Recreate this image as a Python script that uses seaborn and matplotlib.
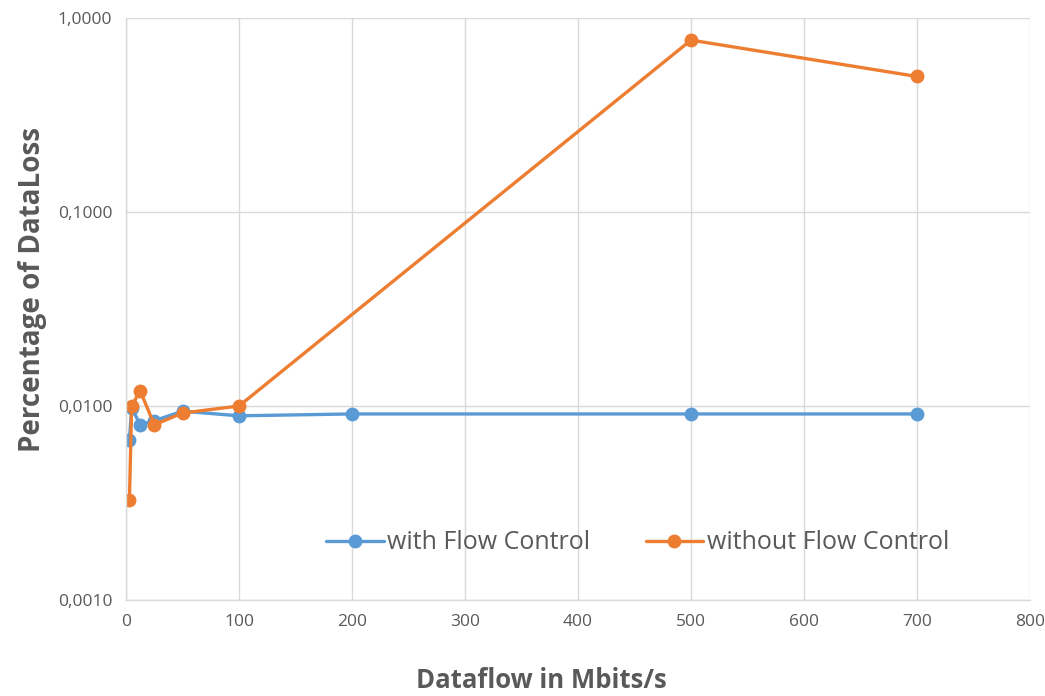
import matplotlib
matplotlib.use("Agg")
import matplotlib.pyplot as plt
import matplotlib.ticker as mticker
import seaborn as sns
import pandas as pd

with_x = [3, 5, 12.5, 25, 50, 100, 200, 500, 700]
with_y = [0.00668, 0.0098, 0.0080, 0.0084, 0.0094, 0.0089, 0.0091, 0.0091, 0.0091]
without_x = [3, 5, 12.5, 25, 50, 100, 500, 700]
without_y = [0.00327, 0.0100, 0.0120, 0.0080, 0.0092, 0.0100, 0.77, 0.50]
series_names = ["with Flow Control", "without Flow Control"]
colors = ["#5B9BD5", "#ED7D31"]

df = pd.DataFrame({
    "x": with_x + without_x,
    "y": with_y + without_y,
    "series": [series_names[0]] * len(with_x) + [series_names[1]] * len(without_x),
})

sns.set_theme(style="white")
plt.rcParams['font.family'] = ['Open Sans', 'DejaVu Sans']

fig = plt.figure(figsize=(10.45, 6.96), dpi=100)
ax = fig.add_axes([0.1206, 0.138, 0.865, 0.836])

sns.lineplot(data=df, x="x", y="y", hue="series", palette=colors, marker="o",
             markersize=10, markeredgewidth=0, linewidth=2.4, ax=ax, sort=False,
             estimator=None)

ax.set_yscale("log")
ax.set_ylim(0.001, 1.0)
ax.set_xlim(0, 800)
ax.set_xticks(range(0, 801, 100))
ax.yaxis.set_major_locator(mticker.FixedLocator([0.001, 0.01, 0.1, 1.0]))
ax.yaxis.set_minor_locator(mticker.NullLocator())
ax.yaxis.set_major_formatter(mticker.FuncFormatter(lambda v, p: f"{v:.4f}".replace(".", ",")))

ax.grid(True, color="#D9D9D9", linewidth=1)
ax.set_axisbelow(True)
for s in ["top", "right"]:
    ax.spines[s].set_visible(False)
for s in ["left", "bottom"]:
    ax.spines[s].set_color("#D9D9D9")
    ax.spines[s].set_linewidth(1)

ax.tick_params(axis="both", colors="#595959", labelsize=12.5, length=0, pad=10)
ax.set_xlabel("Dataflow in Mbits/s", fontsize=18.5, fontweight="bold", color="#595959")
ax.set_ylabel("Percentage of DataLoss", fontsize=20, fontweight="bold", color="#595959")
ax.xaxis.set_label_coords(0.459, -0.115)
ax.yaxis.set_label_coords(-0.087, 0.533)

leg = ax.legend(loc="center", bbox_to_anchor=(0.566, 0.098), ncol=2, frameon=False,
                fontsize=18, handlelength=2.3, handletextpad=0.15, columnspacing=2.2,
                labelcolor="#595959")

fig.savefig("out.png", dpi=100)
